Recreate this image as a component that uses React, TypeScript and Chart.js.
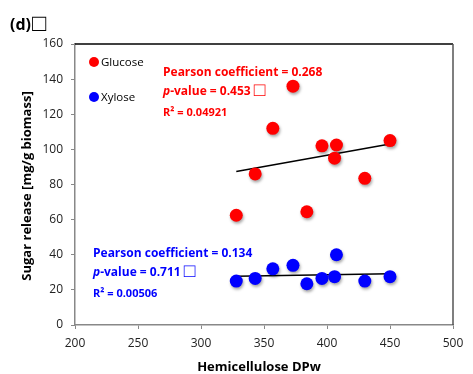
import React, { useEffect, useRef } from "react";
import { Chart, registerables } from "chart.js";

Chart.register(...registerables);

const hemicelluloseDPw = [328, 343, 357, 373, 384, 396, 407.5, 406, 430, 450];
const glucoseRelease = [62.5, 86, 112, 136, 64.5, 102, 102.5, 95, 83.5, 105];
const xyloseRelease = [25, 26.5, 32, 34, 23.5, 26.5, 40, 27.5, 25, 27.5];
const trendX = [328, 450];
const glucoseTrend = [87.4, 103];
const xyloseTrend = [27.7, 29.2];
const xTicks = [200, 250, 300, 350, 400, 450, 500];
const yTicks = [0, 20, 40, 60, 80, 100, 120, 140, 160];
const seriesNames = ["Glucose", "Xylose"];
const glucoseStats = ["Pearson coefficient = 0.268", "0.453", "0.04921"];
const xyloseStats = ["Pearson coefficient = 0.134", "0.711", "0.00506"];

const FONT = "'Open Sans', 'Noto Sans', sans-serif";
const BOX = "\u25A1";

const overlay = {
  id: "overlay",
  beforeDatasetDraw(chart: any, args: any) {
    const ctx = chart.ctx;
    if (args.index < 2) {
      ctx.save();
      ctx.shadowColor = "rgba(0,0,0,0.35)";
      ctx.shadowBlur = 3;
      ctx.shadowOffsetX = 1;
      ctx.shadowOffsetY = 2;
    }
  },
  afterDatasetDraw(chart: any, args: any) {
    if (args.index < 2) chart.ctx.restore();
  },
  afterDraw(chart: any) {
    const ctx = chart.ctx;
    const { left, right, top, bottom } = chart.chartArea;
    ctx.save();
    // top & right border
    ctx.strokeStyle = "#000";
    ctx.lineWidth = 1.5;
    ctx.beginPath();
    ctx.moveTo(left, top);
    ctx.lineTo(right, top);
    ctx.stroke();
    ctx.strokeStyle = "#555";
    ctx.beginPath();
    ctx.moveTo(right, top);
    ctx.lineTo(right, bottom);
    ctx.stroke();

    // title
    ctx.fillStyle = "#000";
    ctx.textBaseline = "middle";
    ctx.textAlign = "left";
    ctx.font = `bold 16px ${FONT}`;
    ctx.fillText("(d)", 10, 25);
    const tw = ctx.measureText("(d)").width;
    ctx.font = `bold 24px ${FONT}`;
    ctx.fillText(BOX, 10 + tw + 1, 24);

    // axis titles
    ctx.font = `bold 13px ${FONT}`;
    ctx.textAlign = "center";
    ctx.fillText("Hemicellulose DPw", 259, 367);
    ctx.save();
    ctx.translate(27, 186);
    ctx.rotate(-Math.PI / 2);
    ctx.fillText("Sugar release [mg/g biomass]", 0, 0);
    ctx.restore();

    // legend
    ctx.textAlign = "left";
    const legend = [
      { name: seriesNames[0], color: "#ff0000", y: 62 },
      { name: seriesNames[1], color: "#0000ff", y: 97 },
    ];
    legend.forEach((l) => {
      ctx.fillStyle = l.color;
      ctx.beginPath();
      ctx.arc(94, l.y, 5, 0, Math.PI * 2);
      ctx.fill();
      ctx.fillStyle = "#000";
      ctx.font = `11.5px ${FONT}`;
      ctx.fillText(l.name, 101, l.y + 1);
    });

    const drawStats = (stats: string[], color: string, x: number, y: number) => {
      ctx.fillStyle = color;
      ctx.font = `bold 12px ${FONT}`;
      ctx.fillText(stats[0], x, y);
      ctx.font = `italic bold 12px ${FONT}`;
      ctx.fillText("p", x, y + 19);
      const pw = ctx.measureText("p").width;
      ctx.font = `bold 12px ${FONT}`;
      const rest = "-value = " + stats[1] + " ";
      ctx.fillText(rest, x + pw, y + 19);
      const rw = ctx.measureText(rest).width;
      ctx.font = `bold 19px ${FONT}`;
      ctx.fillText(BOX, x + pw + rw, y + 18);
      ctx.font = `bold 11px ${FONT}`;
      ctx.fillText("R\u00B2 = " + stats[2], x, y + 40);
    };
    drawStats(glucoseStats, "#ff0000", 163, 73);
    drawStats(xyloseStats, "#0000ff", 93, 254);
    ctx.restore();
  },
};

export default function App() {
  const ref = useRef<HTMLCanvasElement | null>(null);
  useEffect(() => {
    document.body.style.margin = "0";
    const canvas = ref.current!;
    const chart = new Chart(canvas, {
      type: "scatter",
      data: {
        datasets: [
          {
            label: seriesNames[0],
            data: hemicelluloseDPw.map((x, i) => ({ x, y: glucoseRelease[i] })),
            backgroundColor: "#ff0000",
            borderColor: "#ff0000",
            pointRadius: 6.5,
            borderWidth: 0,
          },
          {
            label: seriesNames[1],
            data: hemicelluloseDPw.map((x, i) => ({ x, y: xyloseRelease[i] })),
            backgroundColor: "#0000ff",
            borderColor: "#0000ff",
            pointRadius: 6.5,
            borderWidth: 0,
          },
          {
            label: "trend1",
            data: trendX.map((x, i) => ({ x, y: glucoseTrend[i] })),
            showLine: true,
            borderColor: "#000",
            borderWidth: 1.5,
            pointRadius: 0,
          },
          {
            label: "trend2",
            data: trendX.map((x, i) => ({ x, y: xyloseTrend[i] })),
            showLine: true,
            borderColor: "#000",
            borderWidth: 1.5,
            pointRadius: 0,
          },
        ],
      },
      options: {
        responsive: false,
        animation: false,
        devicePixelRatio: 1,
        layout: { padding: { top: 44, right: 20, left: 0, bottom: 0 } },
        plugins: { legend: { display: false }, tooltip: { enabled: false } },
        scales: {
          x: {
            type: "linear",
            min: 200,
            max: 500,
            afterBuildTicks: (s: any) => {
              s.ticks = xTicks.map((v) => ({ value: v }));
            },
            afterFit: (s: any) => {
              s.height = 49;
            },
            grid: { drawOnChartArea: false, drawTicks: true, tickLength: 4, color: "#888" },
            border: { display: true, color: "#888", width: 1.5 },
            ticks: { color: "#222", font: { family: FONT, size: 12 }, padding: 7, maxRotation: 0 },
          },
          y: {
            type: "linear",
            min: 0,
            max: 160,
            afterBuildTicks: (s: any) => {
              s.ticks = yTicks.map((v) => ({ value: v }));
            },
            afterFit: (s: any) => {
              s.width = 75;
            },
            grid: { drawOnChartArea: false, drawTicks: true, tickLength: 4, color: "#888" },
            border: { display: true, color: "#888", width: 1.5 },
            ticks: { color: "#222", font: { family: FONT, size: 12 }, padding: 8 },
          },
        },
      },
      plugins: [overlay],
    } as any);
    return () => chart.destroy();
  }, []);
  return (
    <div style={{ width: 473, height: 374 }}>
      <canvas ref={ref} width={473} height={374} style={{ display: "block" }} />
    </div>
  );
}
